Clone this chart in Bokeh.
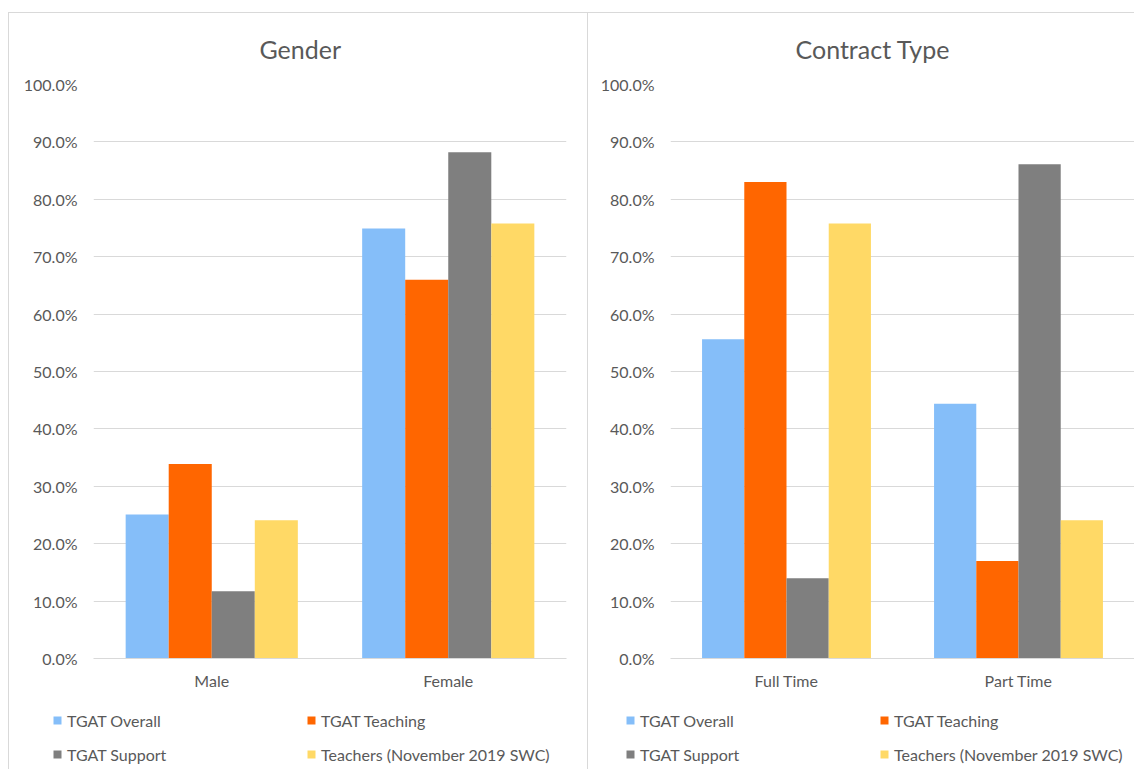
from bokeh.plotting import figure
from bokeh.models import ColumnDataSource, FactorRange, Range1d, PrintfTickFormatter, Legend, LegendItem
from bokeh.transform import dodge
from bokeh.layouts import row, column
from bokeh.embed import file_html
from bokeh.resources import INLINE

series_names = ["TGAT Overall", "TGAT Teaching", "TGAT Support", "Teachers (November 2019 SWC)"]
colors = ["#85BEF9", "#FF6600", "#7F7F7F", "#FFD966"]

gender_cats = ["Male", "Female"]
gender_overall = [25.1, 74.9]
gender_teaching = [33.9, 66.0]
gender_support = [11.7, 88.2]
gender_teachers = [24.1, 75.8]

contract_cats = ["Full Time", "Part Time"]
contract_overall = [55.6, 44.4]
contract_teaching = [83.0, 17.0]
contract_support = [14.0, 86.1]
contract_teachers = [75.8, 24.1]

y_ticks = [0, 10, 20, 30, 40, 50, 60, 70, 80, 90, 100]

FONT = "Lato"
TXT = "#595959"
GRID = "#D9D9D9"
HC = 687
HL = 70
BW = 0.182
OFFS = [-1.5 * BW, -0.5 * BW, 0.5 * BW, 1.5 * BW]


def add_bars(p, src):
    return [p.vbar(x=dodge("cat", OFFS[i], range=p.x_range), top="s%d" % i, width=BW,
                   source=src, fill_color=colors[i], line_color=None) for i in range(4)]


def make_source(cats, vals):
    return ColumnDataSource(dict(cat=cats, s0=vals[0], s1=vals[1], s2=vals[2], s3=vals[3]))


def make_chart(title, cats, vals, width, border_left, border_right, margin, title_offset):
    p = figure(x_range=FactorRange(*cats), y_range=Range1d(0, 100),
               width=width, height=HC, margin=margin,
               output_backend="svg", toolbar_location=None,
               min_border_left=border_left, min_border_right=border_right,
               min_border_top=71, min_border_bottom=42)
    p.styles = {"border-top": "1px solid #D9D9D9", "border-left": "1px solid #D9D9D9"}
    p.title.text = title
    p.title.text_font = FONT
    p.title.text_font_size = "25px"
    p.title.text_font_style = "normal"
    p.title.text_color = TXT
    p.title.align = "left"
    p.title.vertical_align = "top"
    p.title.offset = title_offset
    p.title.standoff = 37
    add_bars(p, make_source(cats, vals))
    p.outline_line_color = None
    p.xgrid.grid_line_color = None
    p.ygrid.grid_line_color = GRID
    p.ygrid.grid_line_width = 1
    p.yaxis.ticker = y_ticks
    p.yaxis.formatter = PrintfTickFormatter(format="%.1f%%")
    p.yaxis.axis_line_color = None
    p.yaxis.major_tick_line_color = None
    p.yaxis.minor_tick_line_color = None
    p.yaxis.major_label_text_font = FONT
    p.yaxis.major_label_text_font_size = "16px"
    p.yaxis.major_label_text_color = TXT
    p.yaxis.major_label_standoff = 10
    p.xaxis.axis_line_color = GRID
    p.xaxis.major_tick_line_color = None
    p.xaxis.minor_tick_line_color = None
    p.xaxis.major_label_text_font = FONT
    p.xaxis.major_label_text_font_size = "16px"
    p.xaxis.major_label_text_color = TXT
    p.xaxis.major_label_standoff = 6
    return p


def make_legend(cats, vals, width, border_left, margin):
    # the series bars are out of this strip's view; only their legend swatches show
    p = figure(x_range=FactorRange(*cats), y_range=Range1d(200, 201), width=width, height=HL,
               margin=margin, output_backend="svg", toolbar_location=None,
               x_axis_location=None, y_axis_location=None,
               min_border_left=border_left, min_border_right=0, min_border_top=11, min_border_bottom=0)
    p.styles = {"border-left": "1px solid #D9D9D9"}
    p.outline_line_color = None
    p.grid.visible = False
    rs = add_bars(p, make_source(cats, vals))
    order = [0, 2, 1, 3]
    legend = Legend(items=[LegendItem(label=series_names[i], renderers=[rs[i]]) for i in order],
                    ncols=2, location="top_left", padding=0, margin=0,
                    glyph_width=10, glyph_height=10, label_standoff=5,
                    label_width=225, label_height=20, spacing=14,
                    label_text_font=FONT, label_text_font_size="16px", label_text_color=TXT,
                    background_fill_alpha=0, border_line_color=None)
    p.add_layout(legend, "center")
    return p


g_vals = [gender_overall, gender_teaching, gender_support, gender_teachers]
c_vals = [contract_overall, contract_teaching, contract_support, contract_teachers]

p1 = make_chart("Gender", gender_cats, g_vals, 579, 84, 22, (12, 0, 0, 8), 166)
p2 = make_chart("Contract Type", contract_cats, c_vals, 547, 82, 1, (12, 0, 0, 0), 125)
l1 = make_legend(gender_cats, g_vals, 579, 43, (0, 0, 0, 8))
l2 = make_legend(contract_cats, c_vals, 547, 37, (0, 0, 0, 0))

layout = column(row(p1, p2), row(l1, l2))
open("out.html", "w").write(file_html(layout, INLINE))
